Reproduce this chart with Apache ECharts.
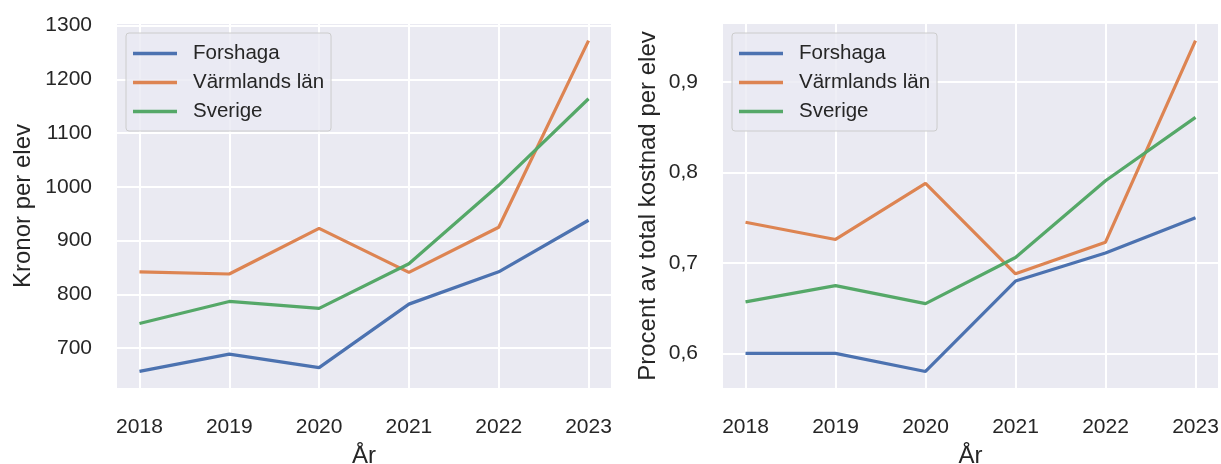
<!DOCTYPE html>
<html>
<head>
<meta charset="utf-8">
<script src="https://cdn.jsdelivr.net/npm/echarts@6/dist/echarts.min.js"></script>
<style>
  html, body { margin: 0; padding: 0; background: #fff; }
  #chart { width: 1221px; height: 464px; }
</style>
</head>
<body>
<div id="chart"></div>
<script>
var years = [2018, 2019, 2020, 2021, 2022, 2023]
var seriesNames = ['Forshaga', 'Värmlands län', 'Sverige']
var colors = ['#4C72B0', '#DD8452', '#55A868']

// kronor per elev
var kronorForshaga = [657, 689, 664, 782, 842, 938]
var kronorVarmland = [842, 838, 923, 841, 925, 1272]
var kronorSverige = [746, 787, 774, 857, 1003, 1164]
var kronorTicks = [700, 800, 900, 1000, 1100, 1200, 1300]

// procent av total kostnad per elev
var procentForshaga = [0.600, 0.600, 0.580, 0.680, 0.711, 0.750]
var procentVarmland = [0.745, 0.726, 0.788, 0.688, 0.723, 0.946]
var procentSverige = [0.657, 0.675, 0.655, 0.706, 0.791, 0.861]
var procentTicks = [0.6, 0.7, 0.8, 0.9]

var textColor = '#262626'
var fontFamily = '"Liberation Sans", Arial, sans-serif'

function pairs(values) {
  return years.map(function (y, i) { return [y, values[i]] })
}

function xAxisFor(gridIndex) {
  return {
    type: 'value',
    gridIndex: gridIndex,
    min: 2017.75,
    max: 2023.25,
    name: 'År',
    nameLocation: 'middle',
    nameGap: 56,
    nameTextStyle: { color: textColor, fontSize: 24, fontFamily: fontFamily },
    axisLine: { show: false },
    axisTick: { show: false, customValues: years },
    axisLabel: {
      customValues: years,
      color: textColor, fontSize: 21, fontFamily: fontFamily, margin: 29,
      formatter: function (v) { return String(v) }
    },
    splitLine: { show: true, lineStyle: { color: '#ffffff', width: 2 } }
  }
}

function yAxisFor(gridIndex, name, min, max, ticks, gap, fmt) {
  return {
    type: 'value',
    gridIndex: gridIndex,
    min: min,
    max: max,
    name: name,
    nameLocation: 'middle',
    nameRotate: 90,
    nameGap: gap,
    nameTextStyle: { color: textColor, fontSize: 24, fontFamily: fontFamily },
    axisLine: { show: false },
    axisTick: { show: false, customValues: ticks },
    axisLabel: {
      customValues: ticks,
      color: textColor, fontSize: 21, fontFamily: fontFamily, margin: 25,
      formatter: fmt
    },
    splitLine: { show: true, lineStyle: { color: '#ffffff', width: 2 } }
  }
}

function lineSeries(name, values, idx, axisIndex) {
  return {
    name: name,
    type: 'line',
    xAxisIndex: axisIndex,
    yAxisIndex: axisIndex,
    data: pairs(values),
    showSymbol: false,
    symbol: 'none',
    lineStyle: { color: colors[idx], width: 3.2 },
    itemStyle: { color: colors[idx] },
    z: 3
  }
}

function legendAt(left) {
  return {
    orient: 'vertical',
    left: left,
    top: 33,
    data: seriesNames,
    icon: 'rect',
    itemWidth: 44,
    itemHeight: 3.5,
    itemGap: 8,
    padding: [10, 7, 9, 7],
    backgroundColor: 'rgba(234,234,242,0.8)',
    borderColor: '#cccccc',
    borderWidth: 1,
    borderRadius: 3,
    textStyle: { color: textColor, fontSize: 20.5, fontFamily: fontFamily, padding: [0, 0, 0, 11], lineHeight: 20 },
    z: 10
  }
}

var chart = echarts.init(document.getElementById('chart'), null, { renderer: 'canvas' })
chart.setOption({
  animation: false,
  backgroundColor: '#ffffff',
  color: colors,
  grid: [
    { left: 117, top: 24, width: 494, height: 364, show: true, backgroundColor: '#EAEAF2', borderWidth: 0, outerBoundsMode: 'none', containLabel: false },
    { left: 723, top: 24, width: 495, height: 364, show: true, backgroundColor: '#EAEAF2', borderWidth: 0, outerBoundsMode: 'none', containLabel: false }
  ],
  legend: [legendAt(126), legendAt(732)],
  xAxis: [xAxisFor(0), xAxisFor(1)],
  yAxis: [
    yAxisFor(0, 'Kronor per elev', 626, 1303, kronorTicks, 82, function (v) { return String(v) }),
    yAxisFor(1, 'Procent av total kostnad per elev', 0.5617, 0.9643, procentTicks, 63,
      function (v) { return v.toFixed(1).replace('.', ',') })
  ],
  series: [
    lineSeries(seriesNames[0], kronorForshaga, 0, 0),
    lineSeries(seriesNames[1], kronorVarmland, 1, 0),
    lineSeries(seriesNames[2], kronorSverige, 2, 0),
    lineSeries(seriesNames[0], procentForshaga, 0, 1),
    lineSeries(seriesNames[1], procentVarmland, 1, 1),
    lineSeries(seriesNames[2], procentSverige, 2, 1)
  ]
})
</script>
</body>
</html>
